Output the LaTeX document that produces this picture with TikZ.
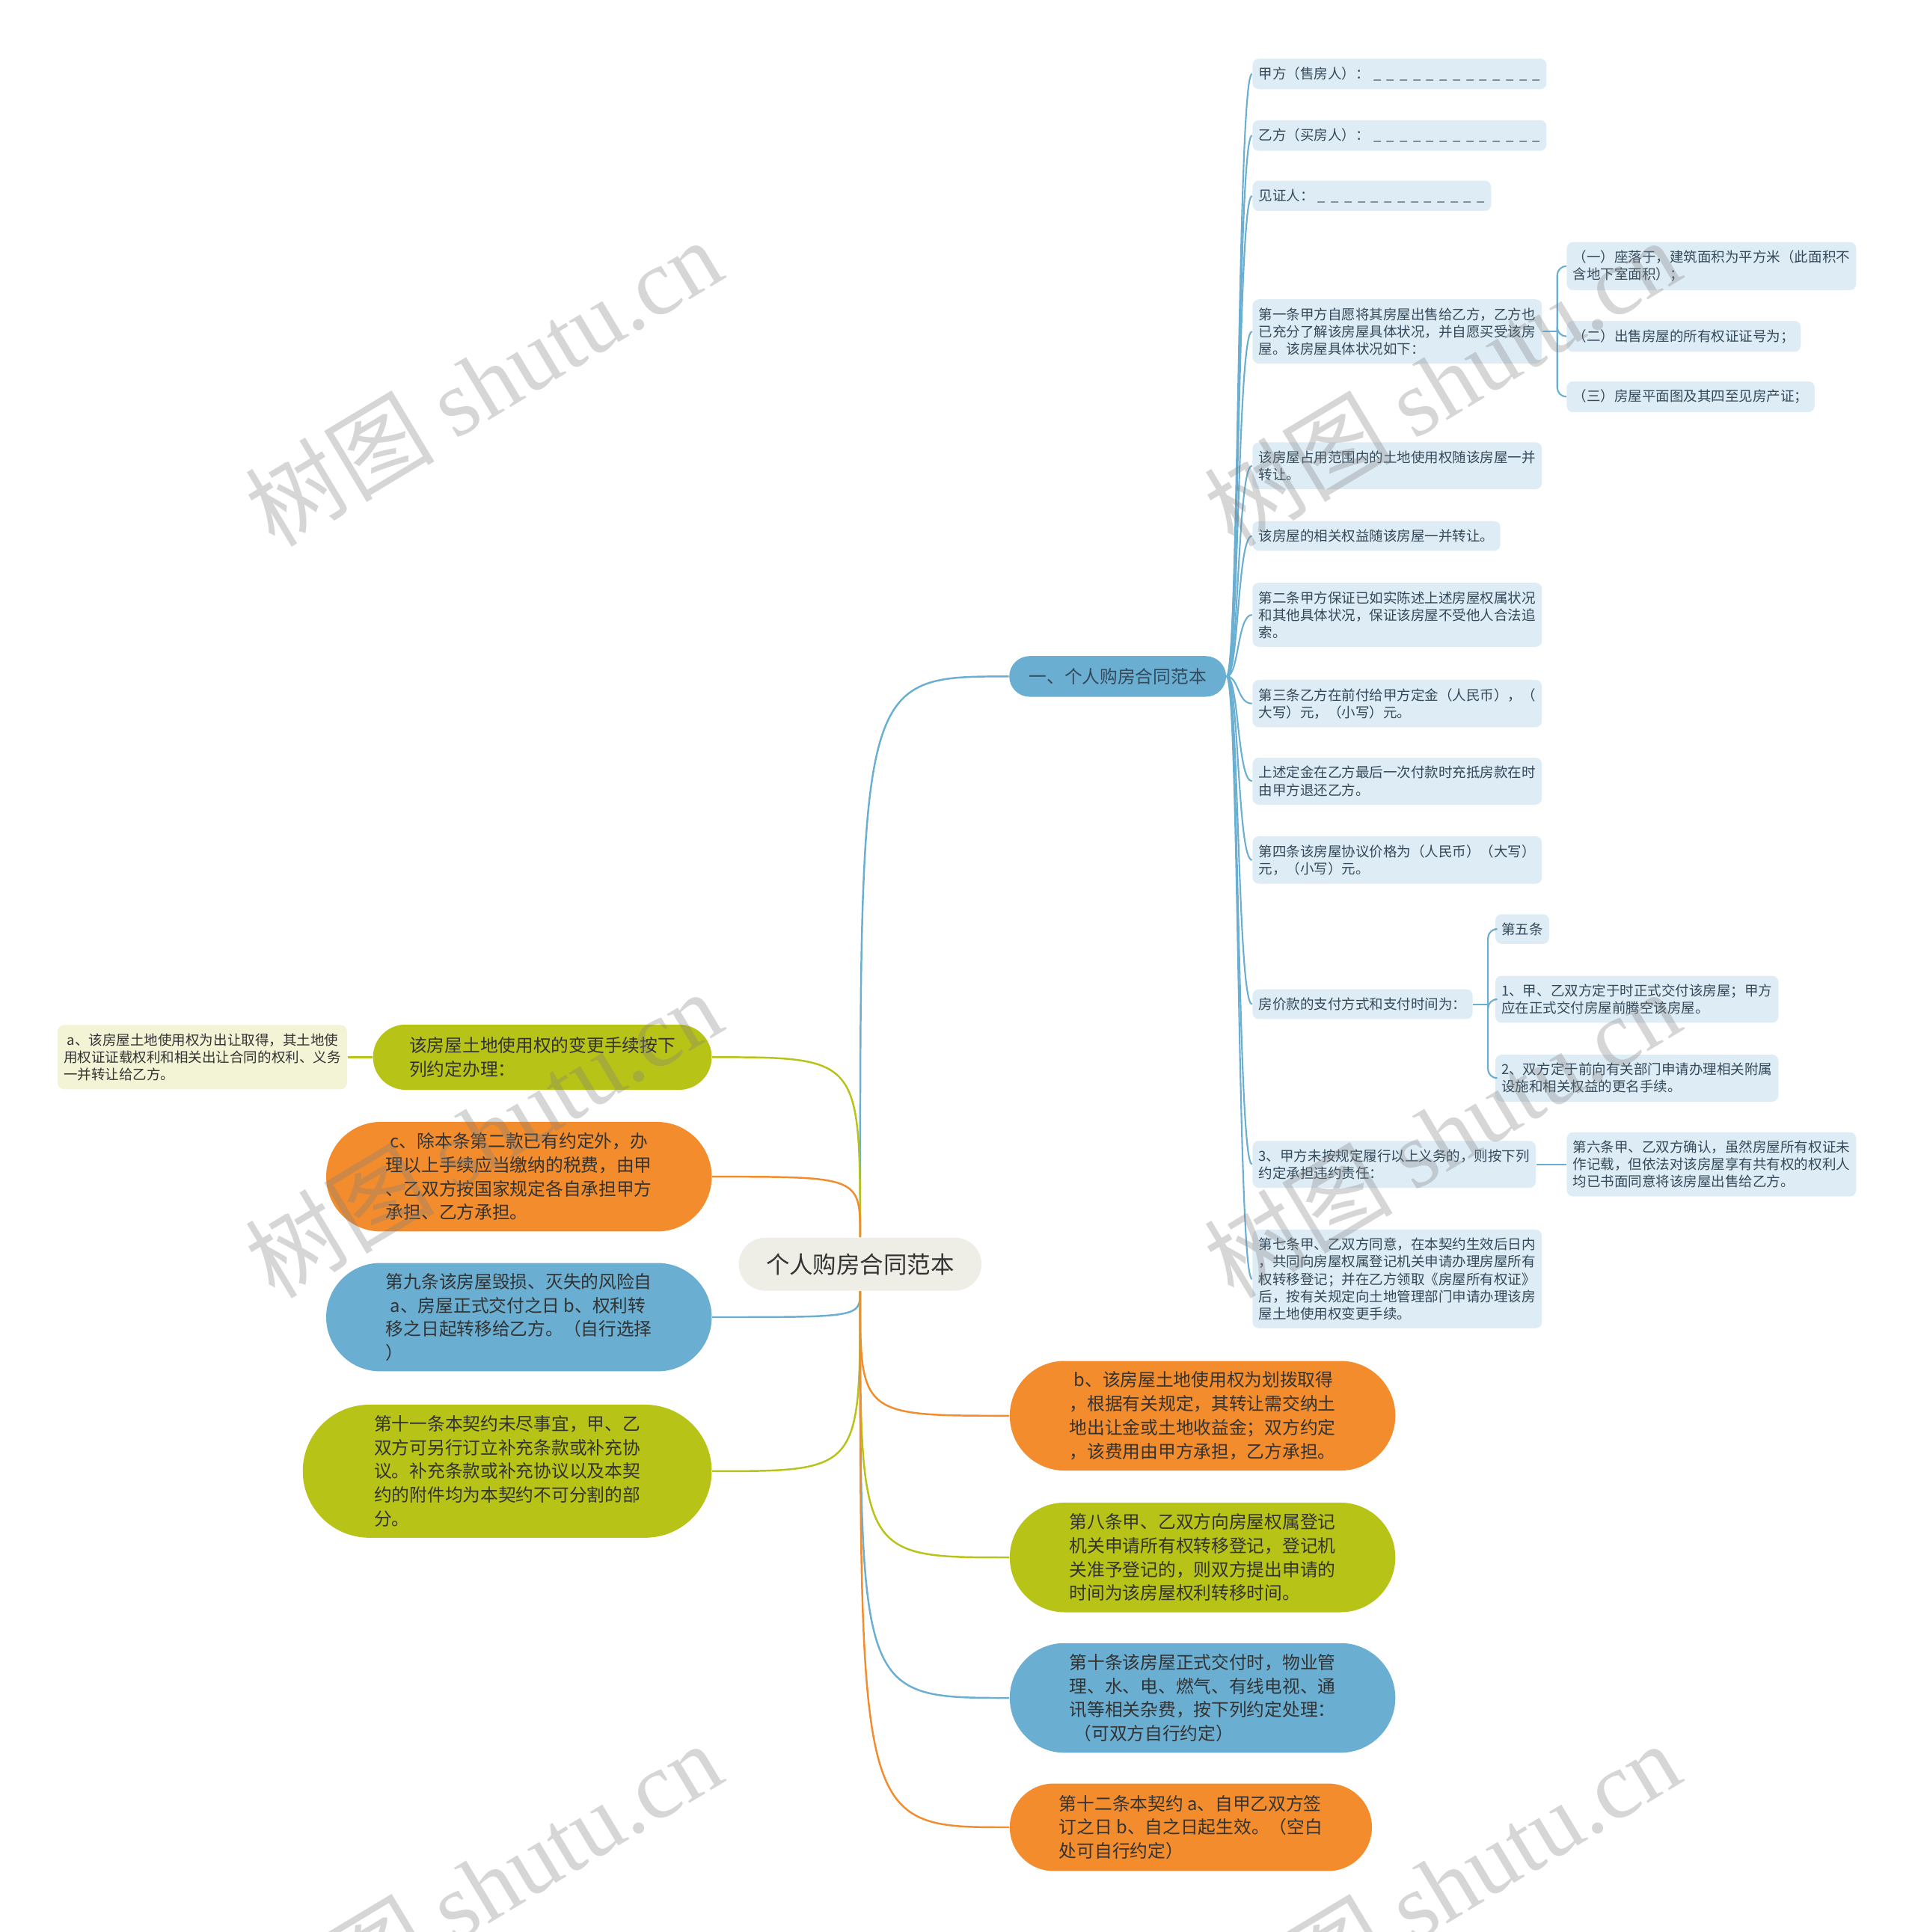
\documentclass[tikz,border=0pt]{standalone}
\usepackage{fontspec}
\setmainfont{Noto Sans CJK SC}
\newfontfamily\wmlatin{Liberation Serif}
\usetikzlibrary{positioning,shapes.misc,calc}

\definecolor{topicblue}{HTML}{6AAED2}
\definecolor{topicolive}{HTML}{B8C317}
\definecolor{topicorange}{HTML}{F28C2C}
\definecolor{leafblue}{HTML}{DEEDF5}
\definecolor{leafyellow}{HTML}{F3F4D6}
\definecolor{rootgray}{HTML}{EEEEE6}
\definecolor{leaftext}{HTML}{34495A}
\definecolor{inktext}{HTML}{333333}

\newcommand{\pxu}{0.4687pt}
\newcommand{\leaffont}{\fontsize{5.27pt}{6.56pt}\selectfont}
\newcommand{\pillfont}{\fontsize{6.75pt}{9.05pt}\selectfont}
\newcommand{\rootfont}{\fontsize{8.95pt}{10pt}\selectfont}
\newcommand{\blankgap}{\_\hspace{2.1pt}}
\newcommand{\blanks}{\hspace{1.5pt}\blankgap\blankgap\blankgap\blankgap\blankgap\blankgap\blankgap\blankgap\blankgap\blankgap\blankgap\blankgap\_}
\newcommand{\lead}{\hspace*{0.25em}}

\tikzset{
  root/.style={rounded rectangle, fill=rootgray, text=inktext, font=\rootfont,
    minimum width=197*\pxu, minimum height=43*\pxu, inner sep=0pt},
  topic/.style={rounded rectangle, fill=topicblue, text=leaftext, font=\pillfont,
    minimum width=176*\pxu, minimum height=33*\pxu, inner sep=0pt},
  pill/.style 2 args={rounded rectangle, text=inktext, font=\pillfont, align=left,
    inner sep=0pt, minimum width=#1*\pxu, minimum height=#2*\pxu},
  leaf/.style={rounded corners=2.4pt, fill=leafblue, text=leaftext, font=\leaffont,
    align=left, inner xsep=2.35pt, inner ysep=3.2pt, anchor=west},
  link/.style={line width=0.7pt},
  twig/.style={line width=0.6pt, draw=topicblue},
  wmtext/.style={text=gray, opacity=0.32, font=\fontsize{36pt}{40pt}\selectfont, rotate=31}
}

\begin{document}
\begin{tikzpicture}[x=0.016474cm, y=-0.016474cm]
	\useasboundingbox (0,0) rectangle (1554,1568);
	% Draw the central topic and the first branch
	\node[root]  (root) at (698,1026) {个人购房合同范本};
	\node[topic] (b1)   at (907,549)  {一、个人购房合同范本};
	% Draw the leaves of the first branch
	\node[leaf] (l1)  at (1016,60)   {甲方（售房人）：\blanks};
	\node[leaf] (l2)  at (1016,110)  {乙方（买房人）：\blanks};
	\node[leaf] (l3)  at (1016,159)  {见证人：\blanks};
	\node[leaf] (l4)  at (1016,269)  {第一条甲方自愿将其房屋出售给乙方，乙方也\\已充分了解该房屋具体状况，并自愿买受该房\\屋。该房屋具体状况如下：};
	\node[leaf] (l5)  at (1016,378)  {该房屋占用范围内的土地使用权随该房屋一并\\转让。};
	\node[leaf] (l6)  at (1016,435)  {该房屋的相关权益随该房屋一并转让。};
	\node[leaf] (l7)  at (1016,499)  {第二条甲方保证已如实陈述上述房屋权属状况\\和其他具体状况，保证该房屋不受他人合法追\\索。};
	\node[leaf] (l8)  at (1016,571)  {第三条乙方在前付给甲方定金（人民币），（\\大写）元，（小写）元。};
	\node[leaf] (l9)  at (1016,634)  {上述定金在乙方最后一次付款时充抵房款在时\\由甲方退还乙方。};
	\node[leaf] (l10) at (1016,698)  {第四条该房屋协议价格为（人民币）（大写）\\元，（小写）元。};
	\node[leaf] (l11) at (1016,815)  {房价款的支付方式和支付时间为：};
	\node[leaf] (l12) at (1016,945)  {3、甲方未按规定履行以上义务的，则按下列\\约定承担违约责任：};
	\node[leaf] (l13) at (1016,1038) {第七条甲、乙双方同意，在本契约生效后日内\\，共同向房屋权属登记机关申请办理房屋所有\\权转移登记；并在乙方领取《房屋所有权证》\\后，按有关规定向土地管理部门申请办理该房\\屋土地使用权变更手续。};
	% Third level
	\node[leaf] (s1) at (1271,216) {（一）座落于，建筑面积为平方米（此面积不\\含地下室面积）；};
	\node[leaf] (s2) at (1271,273) {（二）出售房屋的所有权证证号为；};
	\node[leaf] (s3) at (1271,322) {（三）房屋平面图及其四至见房产证；};
	\node[leaf] (p1) at (1213,754) {第五条};
	\node[leaf] (p2) at (1213,811) {1、甲、乙双方定于时正式交付该房屋；甲方\\应在正式交付房屋前腾空该房屋。};
	\node[leaf] (p3) at (1213,875) {2、双方定于前向有关部门申请办理相关附属\\设施和相关权益的更名手续。};
	\node[leaf] (q1) at (1271,945) {第六条甲、乙双方确认，虽然房屋所有权证未\\作记载，但依法对该房屋享有共有权的权利人\\均已书面同意将该房屋出售给乙方。};
	% Draw the branches on the left
	\node[pill={275}{53}, fill=topicolive, anchor=east]  (lc1) at (578,858)  {该房屋土地使用权的变更手续按下\\列约定办理：};
	\node[leaf, fill=leafyellow, text=inktext, anchor=east] (alf) at (282,858) {\lead a、该房屋土地使用权为出让取得，其土地使\\用权证证载权利和相关出让合同的权利、义务\\一并转让给乙方。};
	\node[pill={313}{89}, fill=topicorange, anchor=east] (lc2) at (578,955)  {\lead c、除本条第二款已有约定外，办\\理以上手续应当缴纳的税费，由甲\\、乙双方按国家规定各自承担甲方\\承担、乙方承担。};
	\node[pill={313}{88}, fill=topicblue, anchor=east]   (lc3) at (578,1069) {第九条该房屋毁损、灭失的风险自\\\lead a、房屋正式交付之日 b、权利转\\移之日起转移给乙方。（自行选择\\）};
	\node[pill={332}{108}, fill=topicolive, anchor=east] (lc4) at (578,1194) {第十一条本契约未尽事宜，甲、乙\\双方可另行订立补充条款或补充协\\议。补充条款或补充协议以及本契\\约的附件均为本契约不可分割的部\\分。};
	% Draw the branches at the bottom right
	\node[pill={313}{89}, fill=topicorange, anchor=west] (rc1) at (819,1149) {\lead b、该房屋土地使用权为划拨取得\\，根据有关规定，其转让需交纳土\\地出让金或土地收益金；双方约定\\，该费用由甲方承担，乙方承担。};
	\node[pill={313}{89}, fill=topicolive, anchor=west]  (rc2) at (819,1264) {第八条甲、乙双方向房屋权属登记\\机关申请所有权转移登记，登记机\\关准予登记的，则双方提出申请的\\时间为该房屋权利转移时间。};
	\node[pill={313}{89}, fill=topicblue, anchor=west]   (rc3) at (819,1378) {第十条该房屋正式交付时，物业管\\理、水、电、燃气、有线电视、通\\讯等相关杂费，按下列约定处理：\\\lead（可双方自行约定）};
	\node[pill={294}{71}, fill=topicorange, anchor=west] (rc4) at (819,1483) {第十二条本契约 a、自甲乙双方签\\订之日 b、自之日起生效。（空白\\处可自行约定）};
	% Connect the root with its branches
	\draw[link, topicblue]   (root.north) .. controls (root.north |- b1.west) .. (b1.west);
	\draw[link, topicolive]  (root.north) .. controls (root.north |- lc1.east) .. (lc1.east);
	\draw[link, topicorange] (root.north) .. controls (root.north |- lc2.east) .. (lc2.east);
	\draw[link, topicblue]   (root.south) .. controls (root.south |- lc3.east) .. (lc3.east);
	\draw[link, topicolive]  (root.south) .. controls (root.south |- lc4.east) .. (lc4.east);
	\draw[link, topicorange] (root.south) .. controls (root.south |- rc1.west) .. (rc1.west);
	\draw[link, topicolive]  (root.south) .. controls (root.south |- rc2.west) .. (rc2.west);
	\draw[link, topicblue]   (root.south) .. controls (root.south |- rc3.west) .. (rc3.west);
	\draw[link, topicorange] (root.south) .. controls (root.south |- rc4.west) .. (rc4.west);
	\draw[link, topicolive]  (lc1.west) -- (alf.east);
	% Connect the first branch with its leaves
	\foreach \lf in {l1,l2,l3,l4,l5,l6,l7,l8,l9,l10,l11,l12,l13}
		\draw[twig] (b1.east) .. controls +(10,0) and +(-12,0) .. (\lf.west);
	\coordinate (j4) at ($(l4.east)+(12,0)$);
	\coordinate (j11) at ($(l11.east)+(12,0)$);
	\draw[twig] (l4.east) -- (j4);
	\draw[twig] (l11.east) -- (j11);
	\foreach \lf in {s1,s2,s3}
		\draw[twig, rounded corners=3.5pt] (j4) |- (\lf.west);
	\foreach \lf in {p1,p2,p3}
		\draw[twig, rounded corners=3.5pt] (j11) |- (\lf.west);
	\draw[twig] (l12.east) -- (q1.west);
	% Watermarks
	\node[wmtext] (wm1) at (392,310)  {树图 {\wmlatin shutu.cn}};
	\node[wmtext] (wm2) at (1170,310) {树图 {\wmlatin shutu.cn}};
	\node[wmtext] (wm3) at (392,920)  {树图 {\wmlatin shutu.cn}};
	\node[wmtext] (wm4) at (1170,920) {树图 {\wmlatin shutu.cn}};
	\node[wmtext] (wm5) at (392,1530) {树图 {\wmlatin shutu.cn}};
	\node[wmtext] (wm6) at (1170,1530) {树图 {\wmlatin shutu.cn}};
\end{tikzpicture}
\end{document}
